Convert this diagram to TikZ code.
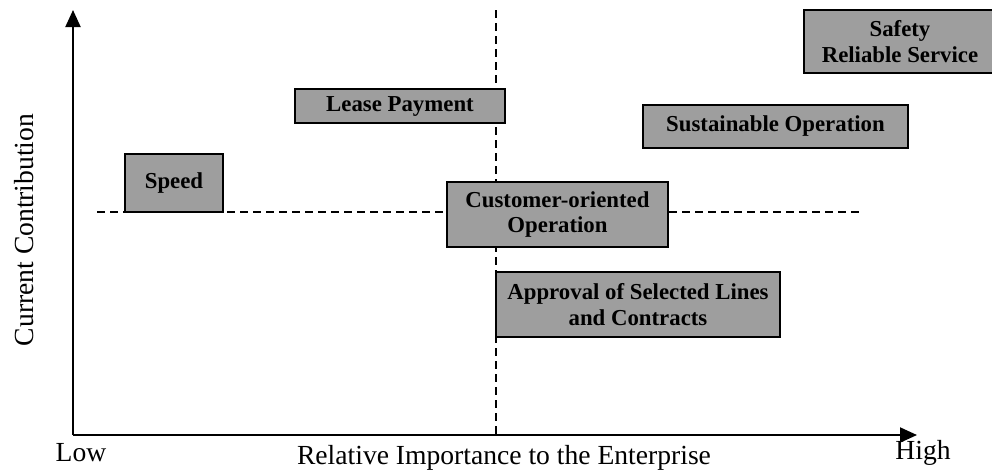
\documentclass[tikz,border=0pt]{standalone}
\usepackage{fontspec}
\setmainfont{Liberation Serif}
\usetikzlibrary{arrows.meta}
\definecolor{boxgray}{gray}{0.62}
\newcommand{\factorbox}[6]{\node[factor, minimum width=#4*0.5pt, minimum height=#5*0.5pt] (#1) at (#2,#3) {#6}}

\begin{document}
\begin{tikzpicture}[x=0.5pt, y=-0.5pt,
    factor/.style={draw, line width=1pt, fill=boxgray, align=center, inner sep=0pt,
                   font=\fontsize{11.4}{12.6}\selectfont\bfseries},
    axis/.style={line width=1pt, -{Triangle[length=8.5pt,width=7.5pt]}},
    split/.style={line width=0.8pt, dash pattern=on 4pt off 2.5pt},
    axislabel/.style={inner sep=0pt, font=\fontsize{13.8}{16}\selectfont}]
                    \useasboundingbox (0,0) rectangle (992,473);

                    \coordinate (origin) at (73,435);
                    \coordinate (ytip) at (73,10);
                    \coordinate (xtip) at (917,435);
                    \coordinate (vtop) at (496,10);
                    \coordinate (vbot) at (496,435);
                    \coordinate (hleft) at (97,212);
                    \coordinate (hright) at (860,212);

                    \draw[split] (vtop) -- (vbot);
                    \draw[split] (hleft) -- (hright);

                    \draw[axis] (origin) -- (ytip);
                    \draw[axis] (origin) -- (xtip);

                    \factorbox{speed}{174}{183}{98}{58}{\raisebox{-3pt}{Speed}};
                    \factorbox{lease}{400}{106}{210}{34}{\raisebox{-2pt}{Lease Payment}};
                    \factorbox{customer}{557.5}{214.5}{221}{65}{Customer-oriented\\Operation};
                    \factorbox{safety}{900}{41.5}{192}{63}{Safety\\Reliable Service};
                    \factorbox{sustain}{775.5}{126.5}{265}{43}{Sustainable Operation};
                    \factorbox{approval}{638}{304.5}{284}{65}{Approval of Selected Lines\\and Contracts};

                    \node[axislabel] (low) at (81,453) {Low};
                    \node[axislabel] (high) at (923,453) {High};
                    \node[axislabel] (xlabel) at (504,458) {Relative Importance to the Enterprise};
                    \node[axislabel, rotate=90] (ylabel) at (24,230) {Current Contribution};
                \end{tikzpicture}
\end{document}
